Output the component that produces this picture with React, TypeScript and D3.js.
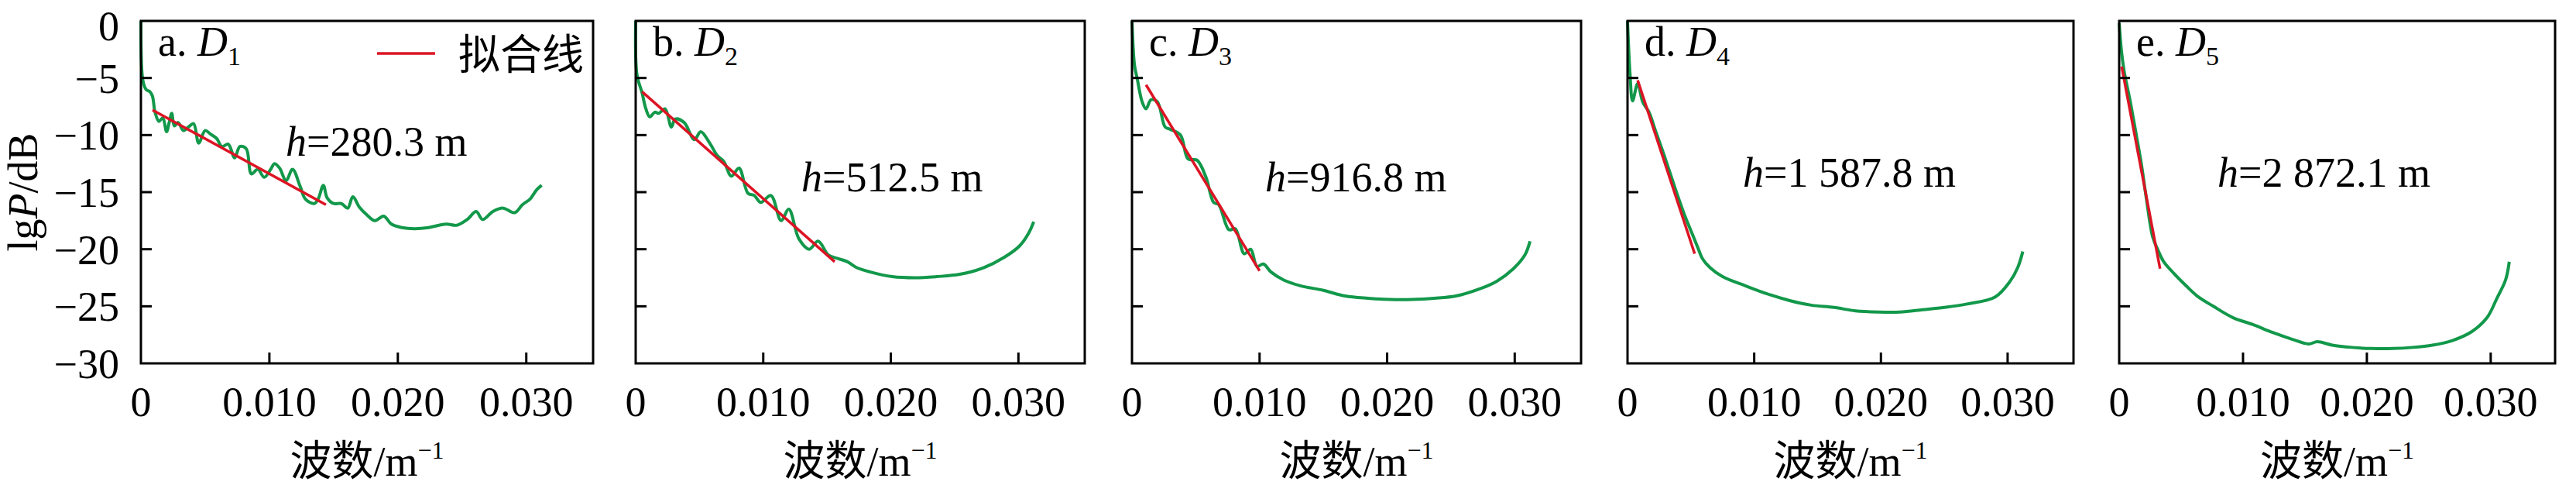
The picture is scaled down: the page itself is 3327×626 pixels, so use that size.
import React from 'react';
import * as d3 from 'd3';

type Pt = [number, number];

// spectrum curves [wavenumber, lgP]
const specD1: Pt[] = [[0,0],[0.00015,-5.2],[0.0004,-6.0],[0.0007,-6.2],[0.0009,-6.6],[0.0011,-8.0],[0.0014,-8.8],[0.0017,-8.5],[0.002,-9.7],[0.0022,-8.9],[0.0024,-8.1],[0.0026,-9.2],[0.0029,-8.9],[0.0033,-9.6],[0.0037,-9.3],[0.0041,-9.0],[0.0045,-10.7],[0.005,-9.6],[0.0054,-9.9],[0.0059,-10.3],[0.0063,-11.0],[0.0068,-10.8],[0.0073,-12.0],[0.0077,-11.0],[0.0082,-11.2],[0.0086,-13.4],[0.0091,-13.0],[0.0096,-13.7],[0.0101,-13.0],[0.0104,-12.5],[0.0108,-12.9],[0.0113,-14.0],[0.0118,-13.0],[0.0124,-14.5],[0.0128,-15.6],[0.0135,-16.0],[0.0138,-15.6],[0.0142,-14.4],[0.0145,-15.5],[0.015,-16.0],[0.0156,-16.0],[0.0161,-16.4],[0.0165,-15.4],[0.017,-16.3],[0.0176,-17.0],[0.0182,-17.5],[0.0189,-17.1],[0.0195,-17.8],[0.0203,-18.1],[0.0213,-18.2],[0.0224,-18.1],[0.0232,-17.9],[0.0238,-17.8],[0.0246,-17.9],[0.0254,-17.4],[0.0261,-16.7],[0.0266,-17.4],[0.0274,-16.7],[0.0282,-16.4],[0.0291,-16.8],[0.0297,-16.1],[0.0303,-15.6],[0.0308,-14.8],[0.0312,-14.4]];
const specD2: Pt[] = [[0,0],[0.0001,-4.7],[0.0005,-6.3],[0.0008,-7.7],[0.0011,-8.4],[0.0015,-8.0],[0.0018,-8.1],[0.0023,-7.7],[0.0028,-9.3],[0.0031,-8.6],[0.0038,-8.9],[0.0046,-10.4],[0.0051,-9.7],[0.0058,-10.7],[0.0064,-11.8],[0.0069,-12.3],[0.0075,-13.6],[0.0081,-12.9],[0.0088,-15.1],[0.0093,-15.3],[0.0098,-15.9],[0.0106,-15.3],[0.0114,-17.5],[0.012,-16.5],[0.0128,-19.1],[0.0136,-20.0],[0.0143,-19.3],[0.0151,-20.5],[0.0158,-20.8],[0.0166,-21.1],[0.0173,-21.6],[0.0184,-22.0],[0.0201,-22.4],[0.0219,-22.5],[0.0236,-22.4],[0.0254,-22.2],[0.0271,-21.7],[0.0289,-20.7],[0.0301,-19.7],[0.0308,-18.6],[0.0312,-17.6]];
const specD3: Pt[] = [[0,0],[0.0002,-3.9],[0.0004,-5.0],[0.0008,-7.1],[0.0011,-7.7],[0.0015,-6.9],[0.002,-7.1],[0.0026,-9.3],[0.003,-9.5],[0.0038,-10.0],[0.0044,-12.1],[0.0051,-12.2],[0.0058,-13.7],[0.0064,-15.9],[0.0068,-16.1],[0.0076,-18.3],[0.0081,-18.2],[0.0088,-20.4],[0.0093,-20.0],[0.0098,-21.5],[0.0103,-21.3],[0.0109,-22.0],[0.0119,-22.7],[0.0132,-23.2],[0.015,-23.6],[0.0167,-24.1],[0.0185,-24.3],[0.0202,-24.4],[0.022,-24.4],[0.0237,-24.3],[0.0254,-24.1],[0.0272,-23.5],[0.0286,-22.8],[0.0299,-21.7],[0.0308,-20.5],[0.0312,-19.3]];
const specD4: Pt[] = [[0,0],[0.0002,-4.7],[0.0004,-7.0],[0.0008,-5.5],[0.0012,-7.1],[0.0017,-8.0],[0.0022,-9.6],[0.0029,-11.8],[0.0038,-14.8],[0.0045,-17.0],[0.0052,-18.9],[0.0056,-20.0],[0.0059,-20.8],[0.0065,-21.6],[0.0075,-22.4],[0.0093,-23.2],[0.011,-23.9],[0.0128,-24.5],[0.0145,-24.9],[0.0163,-25.1],[0.018,-25.4],[0.0198,-25.5],[0.0215,-25.5],[0.0233,-25.3],[0.025,-25.1],[0.0268,-24.8],[0.029,-24.2],[0.0302,-22.8],[0.0308,-21.6],[0.0312,-20.2]];
const specD5: Pt[] = [[0,-0.2],[0.0002,-2.8],[0.0004,-4.4],[0.0009,-7.1],[0.0014,-10.1],[0.0018,-12.6],[0.0022,-15.6],[0.0027,-18.9],[0.0031,-20.0],[0.0036,-21.1],[0.0044,-22.1],[0.0054,-23.2],[0.0063,-24.1],[0.0076,-25.0],[0.0092,-26.0],[0.0108,-26.6],[0.0124,-27.3],[0.014,-27.9],[0.0153,-28.3],[0.016,-28.1],[0.0172,-28.4],[0.0188,-28.6],[0.0204,-28.7],[0.0221,-28.7],[0.0237,-28.6],[0.0253,-28.4],[0.0269,-28.0],[0.0285,-27.2],[0.0297,-26.0],[0.0305,-24.3],[0.0312,-22.7],[0.0315,-21.1]];

// fitted lines (start, end)
const fitD1: Pt[] = [[0.0009,-7.8],[0.0144,-16.1]];
const fitD2: Pt[] = [[0.0005,-6.2],[0.0156,-21.1]];
const fitD3: Pt[] = [[0.0011,-5.6],[0.01,-21.9]];
const fitD4: Pt[] = [[0.0008,-5.2],[0.0053,-20.4]];
const fitD5: Pt[] = [[0.0002,-4.0],[0.0033,-21.7]];

const panelLetters = ['a', 'b', 'c', 'd', 'e'];
const depthLabels = ['280.3 m', '512.5 m', '916.8 m', '1 587.8 m', '2 872.1 m'];
const xTicks = [0, 0.01, 0.02, 0.03];
const xTickLabels = ['0', '0.010', '0.020', '0.030'];
const yTicks = [0, -5, -10, -15, -20, -25, -30];

const spectra = [specD1, specD2, specD3, specD4, specD5];
const fits = [fitD1, fitD2, fitD3, fitD4, fitD5];

// layout
const lefts = [182, 821, 1462, 2102, 2737];
const widths = [584, 580, 580, 576, 563];
const hPos: Pt[] = [[369, 201], [1035, 247], [1634, 247], [2251, 241], [2864, 241]];
const top = 27;
const bottom = 469;
const GREEN = '#12984a';
const RED = '#dc1424';
const FONT = '"Liberation Serif", "Noto Sans CJK SC", serif';

const y = d3.scaleLinear().domain([0, -30]).range([top, bottom]);

const App: React.FC = () => (
  <svg width={3327} height={626} style={{ position: 'absolute', left: 0, top: 0, background: '#fff' }}
    fontFamily={FONT} fontSize={54}>
    {/* y tick labels (first panel only) */}
    {yTicks.map(t => (
      <text key={t} x={154} y={t === 0 ? y(t) + 6 : y(t)} dy="0.35em" textAnchor="end">{t === 0 ? '0' : `−${-t}`}</text>
    ))}
    <text transform={`translate(48,${(top + bottom) / 2}) rotate(-90)`} textAnchor="middle">
      lg<tspan fontStyle="italic">P</tspan>/dB
    </text>
    {spectra.map((spec, i) => {
      const x = d3.scaleLinear().domain([0, 0.0352]).range([lefts[i], lefts[i] + widths[i]]);
      const line = d3.line<Pt>().x(d => x(d[0])).y(d => y(d[1])).curve(d3.curveCatmullRom);
      const fit = d3.line<Pt>().x(d => x(d[0])).y(d => y(d[1]));
      const cx = lefts[i] + widths[i] / 2;
      return (
        <g key={i}>
          <path d={line(spec) ?? ''} fill="none" stroke={GREEN} strokeWidth={4} />
          <path d={fit(fits[i]) ?? ''} fill="none" stroke={RED} strokeWidth={3.5} />
          <rect x={lefts[i]} y={top} width={widths[i]} height={bottom - top} fill="none" stroke="#000" strokeWidth={3} />
          {xTicks.slice(1).map(t => (
            <line key={t} x1={x(t)} x2={x(t)} y1={bottom} y2={bottom - 14} stroke="#000" strokeWidth={3} />
          ))}
          {yTicks.slice(1, -1).map(t => (
            <line key={t} x1={lefts[i]} x2={lefts[i] + 14} y1={y(t)} y2={y(t)} stroke="#000" strokeWidth={3} />
          ))}
          {xTicks.map((t, j) => (
            <text key={t} x={x(t)} y={537} textAnchor="middle">{xTickLabels[j]}</text>
          ))}
          <text x={cx} y={614} textAnchor="middle">
            波数/m<tspan dy={-22} fontSize={32}>−1</tspan>
          </text>
          <text x={lefts[i] + 22} y={72}>
            {panelLetters[i]}. <tspan fontStyle="italic">D</tspan><tspan fontSize={34} dy={12}>{i + 1}</tspan>
          </text>
          <text x={hPos[i][0]} y={hPos[i][1]}>
            <tspan fontStyle="italic">h</tspan>={depthLabels[i]}
          </text>
        </g>
      );
    })}
    {/* legend */}
    <line x1={487} x2={562} y1={69} y2={69} stroke={RED} strokeWidth={3.5} />
    <text x={592} y={90}>拟合线</text>
  </svg>
);

export default App;
